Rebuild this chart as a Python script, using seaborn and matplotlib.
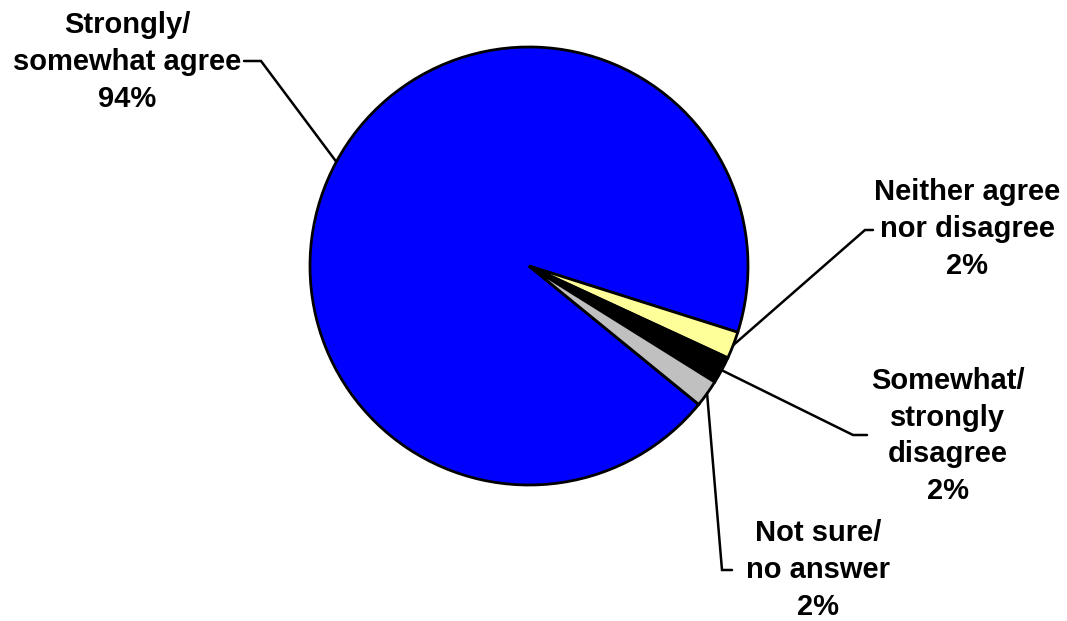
import matplotlib
matplotlib.use('Agg')
import matplotlib.pyplot as plt
import seaborn as sns
import numpy as np

# dados do gráfico
categorias = ['Strongly/\nsomewhat agree', 'Neither agree\nnor disagree',
              'Somewhat/\nstrongly\ndisagree', 'Not sure/\nno answer']
valores = [94, 2, 2, 2]
cores = ['#0000FF', '#FFFF99', '#000000', '#C0C0C0']

sns.set_theme(style='white')
plt.rcParams['font.family'] = ['Liberation Sans', 'DejaVu Sans']

fig = plt.figure(figsize=(10.67, 6.21), dpi=100)
ax = fig.add_axes([0, 0, 1, 1])

# centro do pizza em (529, 266) px, raio 219 px
cx, cy, r = 529, 266, 219
W, H = 1067, 621

wedges, _ = ax.pie(valores, colors=cores, startangle=-39.2, counterclock=False,
                   radius=1, center=(0, 0), frame=False,
                   wedgeprops=dict(edgecolor='black', linewidth=2))
ax.set_xlim(-cx / r, (W - cx) / r)
ax.set_ylim((cy - H) / r, cy / r)
ax.set_aspect('auto')
ax.axis('off')


def px(x, y):
    return ((x - cx) / r, (cy - y) / r)


# cotovelo, fim da linha e centro do texto (em pixels)
layout = [
    ((261, 61), (244, 61), (127, 62)),
    ((865, 230), (873, 230), (967, 229)),
    ((853, 435), (867, 435), (948, 436)),
    ((722, 570), (732, 570), (818, 570)),
]

for w, cat, v, (elbow, end, txt) in zip(wedges, categorias, valores, layout):
    ang = np.deg2rad((w.theta1 + w.theta2) / 2)
    p0 = (np.cos(ang), np.sin(ang))
    e = px(*elbow)
    f = px(*end)
    ax.plot([p0[0], e[0], f[0]], [p0[1], e[1], f[1]], color='black', lw=1.8,
            solid_joinstyle='miter')
    tx, ty = px(*txt)
    ax.text(tx, ty, f'{cat}\n{v}%', ha='center', va='center', multialignment='center',
            fontsize=21, fontweight='bold', color='black', linespacing=1.4)

fig.savefig('out.png', dpi=100)
